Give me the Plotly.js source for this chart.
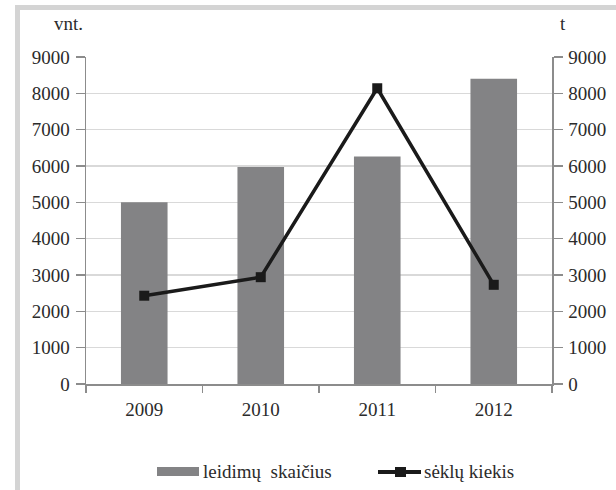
<!DOCTYPE html>
<html>
<head>
<meta charset="utf-8">
<script src="https://cdn.plot.ly/plotly-3.0.1.min.js"></script>
<style>
html,body{margin:0;padding:0;background:#fff;overflow:hidden;}
#wrap{position:relative;width:616px;height:490px;}
#frame{position:absolute;left:15px;top:5px;width:700px;height:600px;border-left:5px solid #d4d4d4;border-top:5px solid #d4d4d4;box-sizing:border-box;}
#chart{position:absolute;left:0;top:0;width:616px;height:490px;}
</style>
</head>
<body>
<div id="wrap"><div id="frame"></div><div id="chart"></div></div>
<script>
const years = ['2009', '2010', '2011', '2012'];
const permits = [5000, 5970, 6260, 8400];   // leidimų skaičius (vnt.)
const seeds = [2430, 2940, 8140, 2730];     // sėklų kiekis (t)
const yTicks = [0, 1000, 2000, 3000, 4000, 5000, 6000, 7000, 8000, 9000];
const barName = 'leidimų  skaičius';
const lineName = 'sėklų kiekis';
const leftUnit = 'vnt.';
const rightUnit = 't';

const fnt = () => ({family: 'Liberation Serif', size: 19, color: '#2b2b2b'});

const L = 86, R = 64, T = 57, B = 106, W = 616, H = 490;
const pw = W - L - R, ph = H - T - B;
const px = x => (x - L) / pw;
const py = y => (H - B - y) / ph;

const barColor = '#838385';
const lineColor = '#1a1a1a';

const traces = [
  {
    type: 'bar', x: years, y: permits, name: barName,
    marker: {color: barColor}, yaxis: 'y'
  },
  {
    type: 'scatter', mode: 'lines+markers', x: years, y: seeds, name: lineName,
    line: {color: lineColor, width: 3.5},
    marker: {symbol: 'square', size: 10, color: lineColor},
    yaxis: 'y2'
  }
];

const yax = (side) => ({
  range: [0, 9000], tickvals: yTicks, ticktext: yTicks.map(String),
  showline: true, linecolor: '#8c8c8c', linewidth: 1.5,
  ticks: 'outside', ticklen: 9, tickcolor: '#8c8c8c', tickwidth: 1.5,
  tickfont: fnt(), fixedrange: true, zeroline: false, ticklabelstandoff: 2,
  side: side
});

const legY = py(472);
const y1 = yax('left');
y1.showgrid = true; y1.gridcolor = '#d9d9d9'; y1.gridwidth = 1.5;
const y2 = yax('right');
y2.overlaying = 'y'; y2.showgrid = false;

const layout = {
  width: W, height: H,
  margin: {l: L, r: R, t: T, b: B, pad: 0},
  paper_bgcolor: 'rgba(0,0,0,0)', plot_bgcolor: '#ffffff',
  font: fnt(),
  bargap: 0.6,
  showlegend: false,
  xaxis: {
    type: 'category', tickson: 'boundaries', ticks: 'outside', ticklen: 7,
    tickcolor: '#8c8c8c', tickwidth: 1.5,
    showline: true, linecolor: '#8c8c8c', linewidth: 1.5,
    showgrid: false, tickfont: fnt(), ticklabelstandoff: 8
  },
  yaxis: y1,
  yaxis2: y2,
  annotations: [
    {text: leftUnit, xref: 'paper', yref: 'paper', x: px(68), y: py(23), showarrow: false, font: fnt(), xanchor: 'center', yanchor: 'middle'},
    {text: rightUnit, xref: 'paper', yref: 'paper', x: px(563), y: py(23), showarrow: false, font: fnt(), xanchor: 'center', yanchor: 'middle'},
    {text: barName, xref: 'paper', yref: 'paper', x: px(201), y: legY, showarrow: false, font: fnt(), xanchor: 'left', yanchor: 'middle'},
    {text: lineName, xref: 'paper', yref: 'paper', x: px(422), y: legY, showarrow: false, font: fnt(), xanchor: 'left', yanchor: 'middle'}
  ],
  shapes: [
    {type: 'rect', xref: 'paper', yref: 'paper', x0: px(157), x1: px(199), y0: py(476), y1: py(467), fillcolor: barColor, line: {width: 0}},
    {type: 'line', xref: 'paper', yref: 'paper', x0: px(378), x1: px(421), y0: py(472), y1: py(472), line: {color: lineColor, width: 4}},
    {type: 'rect', xref: 'paper', yref: 'paper', x0: px(395), x1: px(406), y0: py(477), y1: py(467), fillcolor: lineColor, line: {width: 0}}
  ]
};

Plotly.newPlot('chart', traces, layout, {displayModeBar: false, staticPlot: true});
</script>
</body>
</html>
